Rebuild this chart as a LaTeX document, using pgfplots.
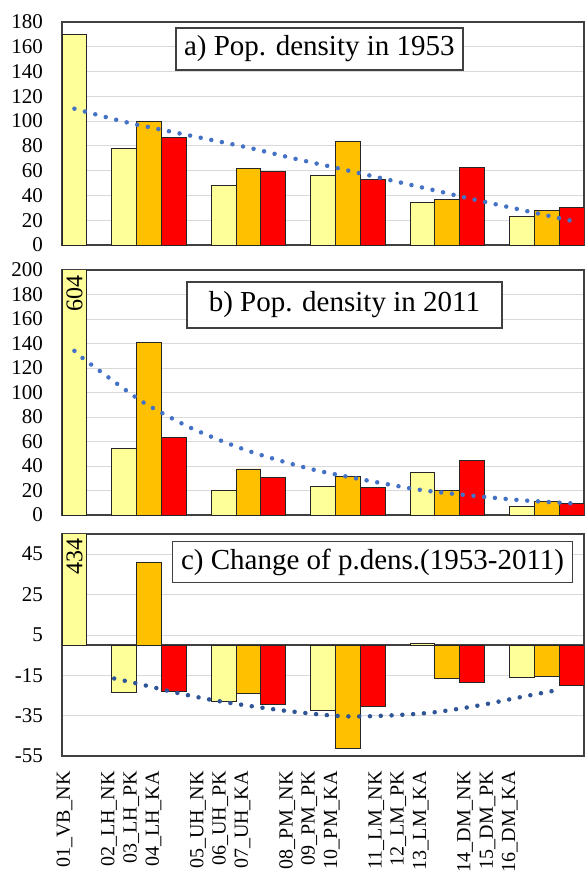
\documentclass[border=0pt]{standalone}
\usepackage{fontspec}
\setmainfont{Liberation Serif}
\usepackage{pgfplots}
\pgfplotsset{compat=1.18}
\definecolor{nk}{HTML}{FFFF99}
\definecolor{pk}{HTML}{FFC000}
\definecolor{ka}{HTML}{FF0000}
\definecolor{trend}{HTML}{4472C4}
\definecolor{trendc}{HTML}{2F5597}
\definecolor{framec}{HTML}{404040}
\definecolor{gridc}{HTML}{D9D9D9}
\pgfplotsset{
  panel/.style={
    width=522pt, scale only axis, xmin=-0.5, xmax=20.5,
    axis line style={framec, line width=1.5pt},
    ymajorgrids, grid style={gridc, line width=0.8pt},
    major tick length=0pt,
    xtick=\empty,
    /pgf/number format/assume math mode=true,
    yticklabel style={font=\fontsize{21}{21}\selectfont, inner sep=0pt},
    yticklabel shift=19pt,
    anchor=north west,
  },
  bars/.style={ybar, bar width=1, bar shift=0pt, draw=black!85, line width=0.8pt},
  tr/.style={line width=4.5pt, line cap=round, dash pattern=on 0pt off 10.8pt, smooth, no marks},
}
\tikzset{titlebox/.style={draw=framec, line width=1.5pt, fill=white, inner sep=0pt, font=\fontsize{29}{29}\selectfont}}
\begin{document}
\begin{tikzpicture}
\useasboundingbox (0,0) rectangle (585pt,-875pt);
% ---------------- a) ----------------
\begin{axis}[panel, at={(62pt,-22pt)}, height=223pt,
  ymin=0, ymax=180, ytick={0,20,...,180}]
\addplot[bars, fill=nk] coordinates {(0,170) (2,78) (6,48) (10,56) (14,34.5) (18,23.4)};
\addplot[bars, fill=pk] coordinates {(3,100) (7,61.6) (11,83.4) (15,36.9) (19,27.7)};
\addplot[bars, fill=ka] coordinates {(4,86.6) (8,59.7) (12,53) (16,62.7) (20,30.4)};
\addplot[tr, trend] coordinates {(0,110) (2,99.5) (4,91) (6.9,79) (8.9,69.5) (10.7,61.5) (14.6,43.6) (15.9,37.5) (20,19.5)};
\node[titlebox, minimum width=287pt, minimum height=42pt] at (rel axis cs:0.493,0.879) {a) Pop. density in 1953};
\end{axis}
% ---------------- b) ----------------
\begin{axis}[panel, at={(62pt,-270pt)}, height=245pt,
  ymin=0, ymax=200, ytick={0,20,...,200}]
\addplot[bars, fill=nk] coordinates {(0,604) (2,54.4) (6,20.4) (10,23.1) (14,34.8) (18,6.8)};
\addplot[bars, fill=pk] coordinates {(3,140.7) (7,37.6) (11,31.3) (15,19.9) (19,11.2)};
\addplot[bars, fill=ka] coordinates {(4,63.1) (8,30.5) (12,22.3) (16,44.3) (20,9.5)};
\addplot[tr, trend] coordinates {(0,134) (0.4,127) (2.3,98.5) (3.1,88) (4.8,70) (6.9,53) (8.9,40.8) (10.3,34) (13.6,21.5) (15.5,16.8) (17.9,12.2) (20,9.5)};
\node[titlebox, minimum width=315pt, minimum height=46pt] at (rel axis cs:0.541,0.858) {b) Pop. density in 2011};
\node[rotate=90, anchor=east, inner sep=0pt, font=\fontsize{24}{24}\selectfont] at (axis cs:0,196) {604};
\end{axis}
% ---------------- c) ----------------
\begin{axis}[panel, at={(62pt,-534pt)}, height=222pt,
  ymin=-55, ymax=55, ytick={-55,-35,...,45},
  extra y ticks={0}, extra y tick labels={},
  extra y tick style={grid style={framec, line width=1.2pt}},
  xtick={-0.40,1.39,2.29,3.18,4.97,5.87,6.76,8.56,9.45,10.35,12.14,13.03,13.93,15.72,16.62,17.51},
  xticklabels={01\_VB\_NK,02\_LH\_NK,03\_LH\_PK,04\_LH\_KA,05\_UH\_NK,06\_UH\_PK,07\_UH\_KA,08\_PM\_NK,09\_PM\_PK,10\_PM\_KA,11\_LM\_NK,12\_LM\_PK,13\_LM\_KA,14\_DM\_NK,15\_DM\_PK,16\_DM\_KA},
  xticklabel style={rotate=90, anchor=east, inner sep=0pt, font=\fontsize{20}{20}\selectfont},
  xticklabel shift=15pt]
\addplot[bars, fill=nk] coordinates {(0,434) (2,-23.5) (6,-27.7) (10,-32.6) (14,0.9) (18,-16.1)};
\addplot[bars, fill=pk] coordinates {(3,40.8) (7,-24) (11,-51.2) (15,-16.4) (19,-15.8)};
\addplot[bars, fill=ka] coordinates {(4,-23.2) (8,-29.3) (12,-30.6) (16,-18.6) (20,-20.2)};
\addplot[tr, trendc] coordinates {(1.6,-16.6) (2.5,-19) (4.2,-23.9) (5.9,-28) (8.5,-32.6) (11.1,-35.4) (14.1,-33.8) (16.2,-30.1) (18,-25.7) (19.4,-22.4)};
\node[titlebox, minimum width=400pt, minimum height=41pt] at (rel axis cs:0.595,0.873) {c) Change of p.dens.(1953-2011)};
\node[rotate=90, anchor=east, inner sep=0pt, font=\fontsize{24}{24}\selectfont] at (axis cs:0,53) {434};
\end{axis}
\end{tikzpicture}
\end{document}
